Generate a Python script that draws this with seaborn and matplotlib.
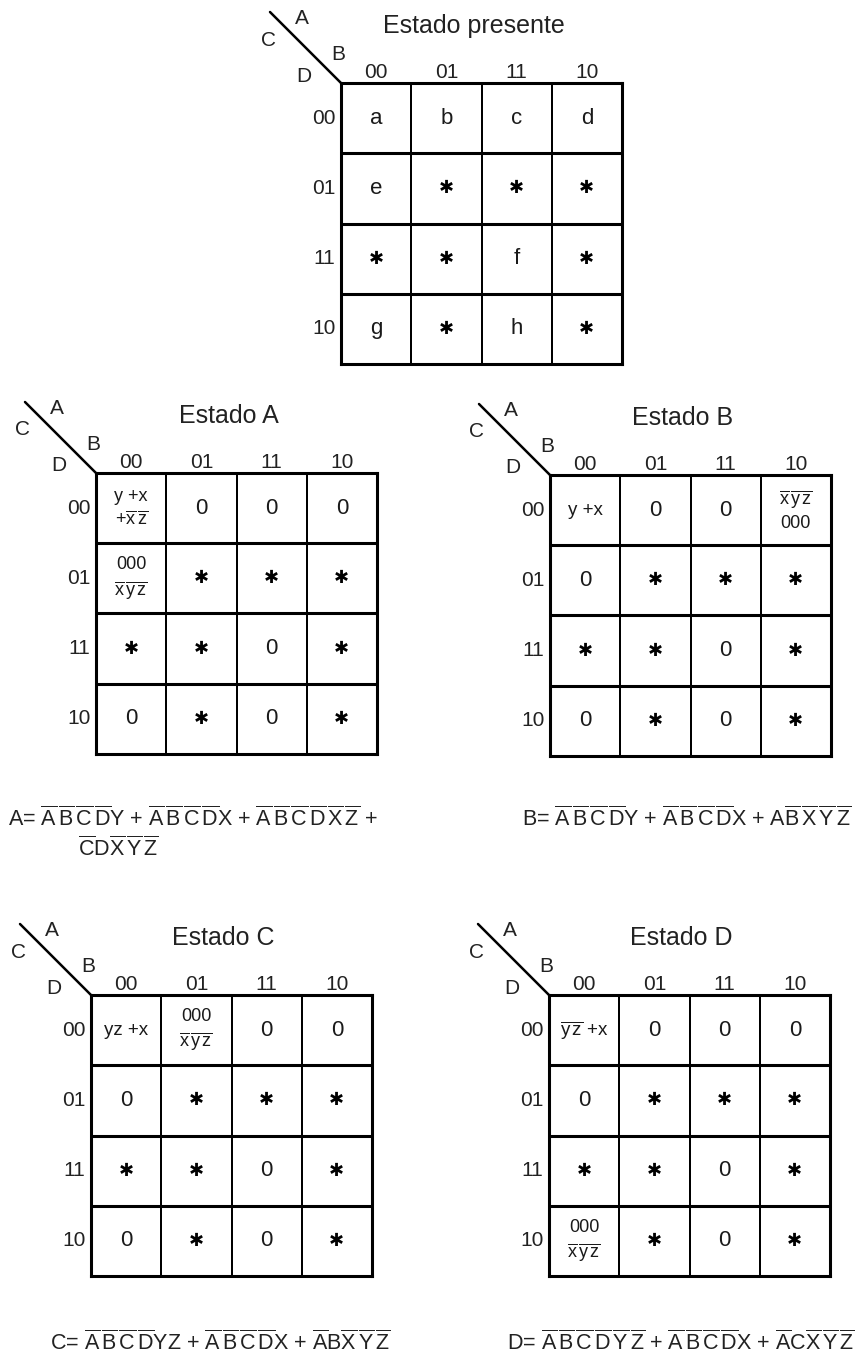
import numpy as np
import pandas as pd
import matplotlib
matplotlib.use("Agg")
import matplotlib.pyplot as plt
from matplotlib.colors import ListedColormap
import seaborn as sns

sns.set_theme(style="white")
plt.rcParams["font.family"] = ["Liberation Sans", "DejaVu Sans"]
plt.rcParams["mathtext.fontset"] = "custom"
plt.rcParams["mathtext.rm"] = "Liberation Sans"
plt.rcParams["mathtext.it"] = "Liberation Sans"
plt.rcParams["mathtext.bf"] = "Liberation Sans:bold"

W, H = 868, 1361
SIZE = 281
STAR = "\u2731"

# ── Data ──────────────────────────────────────────────────────────────────────
gray = ["00", "01", "11", "10"]

presente = [["a", "b", "c", "d"],
            ["e", "*", "*", "*"],
            ["*", "*", "f", "*"],
            ["g", "*", "h", "*"]]

estado_a = [["y +x\n+$\\overline{x}\\,\\overline{z}$", "0", "0", "0"],
            ["000\n$\\overline{x}\\,\\overline{y}\\,\\overline{z}$", "*", "*", "*"],
            ["*", "*", "0", "*"],
            ["0", "*", "0", "*"]]

estado_b = [["y +x", "0", "0", "$\\overline{x}\\,\\overline{y}\\,\\overline{z}$\n000"],
            ["0", "*", "*", "*"],
            ["*", "*", "0", "*"],
            ["0", "*", "0", "*"]]

estado_c = [["yz +x", "000\n$\\overline{x}\\,\\overline{y}\\,\\overline{z}$", "0", "0"],
            ["0", "*", "*", "*"],
            ["*", "*", "0", "*"],
            ["0", "*", "0", "*"]]

estado_d = [["$\\overline{y}\\,\\overline{z}$ +x", "0", "0", "0"],
            ["0", "*", "*", "*"],
            ["*", "*", "0", "*"],
            ["000\n$\\overline{x}\\,\\overline{y}\\,\\overline{z}$", "*", "0", "*"]]

eq_a1 = (r"A= $\overline{A}\,\overline{B}\,\overline{C}\,\overline{D}Y$ + "
         r"$\overline{A}\,\overline{B}\,\overline{C}\,\overline{D}X$ + "
         r"$\overline{A}\,\overline{B}\,\overline{C}\,\overline{D}\,\overline{X}\,\overline{Z}$ +")
eq_a2 = r"$\overline{C}D\overline{X}\,\overline{Y}\,\overline{Z}$"
eq_b = (r"B= $\overline{A}\,\overline{B}\,\overline{C}\,\overline{D}Y$ + "
        r"$\overline{A}\,\overline{B}\,\overline{C}\,\overline{D}X$ + "
        r"$A\overline{B}\,\overline{X}\,\overline{Y}\,\overline{Z}$")
eq_c = (r"C= $\overline{A}\,\overline{B}\,\overline{C}\,\overline{D}YZ$ + "
        r"$\overline{A}\,\overline{B}\,\overline{C}\,\overline{D}X$ + "
        r"$\overline{A}B\overline{X}\,\overline{Y}\,\overline{Z}$")
eq_d = (r"D= $\overline{A}\,\overline{B}\,\overline{C}\,\overline{D}\,\overline{Y}\,\overline{Z}$ + "
        r"$\overline{A}\,\overline{B}\,\overline{C}\,\overline{D}X$ + "
        r"$\overline{A}C\overline{X}\,\overline{Y}\,\overline{Z}$")

fig = plt.figure(figsize=(W / 100, H / 100), dpi=100)
fig.patch.set_facecolor("white")


def draw_map(x0, y0, cells, title):
    ax = fig.add_axes([x0 / W, 1 - (y0 + SIZE) / H, SIZE / W, SIZE / H])
    df = pd.DataFrame(np.zeros((4, 4)), index=gray, columns=gray)
    annot = np.array([[STAR if c == "*" else c for c in row] for row in cells],
                     dtype=object)
    sns.heatmap(df, ax=ax, cmap=ListedColormap(["white"]), cbar=False,
                annot=annot, fmt="", linewidths=1.4, linecolor="black",
                annot_kws={"fontsize": 16, "color": "#1a1a1a"})
    for t in ax.texts:
        s = t.get_text()
        if "\n" in s:
            t.set_fontsize(13)
            t.set_linespacing(1.35)
        elif s == STAR:
            t.set_fontsize(13)
            t.set_family("DejaVu Sans")
            t.set_color("black")
        elif "$" in s or len(s) > 2:
            t.set_fontsize(13.5)
    for i in range(1, 4):
        ax.axhline(i, color="black", lw=2.2)
    for sp in ax.spines.values():
        sp.set_visible(True)
        sp.set_color("black")
        sp.set_linewidth(2.2)
    ax.xaxis.tick_top()
    ax.set_xticklabels(gray, rotation=0)
    ax.set_yticklabels(gray, rotation=0)
    ax.tick_params(length=0, labelsize=15, colors="#222222")
    ax.tick_params(axis="x", pad=1)
    ax.tick_params(axis="y", pad=4)
    ax.set_xlabel("")
    ax.set_ylabel("")

    f = 1.0 / SIZE
    ax.plot([-71 * f, 0], [1 + 71 * f, 1], transform=ax.transAxes,
            clip_on=False, color="black", lw=1.8)
    for lab, dx, dy in [("A", -39, 64), ("C", -73, 43), ("B", -3, 28), ("D", -37, 7)]:
        ax.text(dx * f, 1 + dy * f, lab, transform=ax.transAxes,
                ha="center", va="center", fontsize=15, color="#222222")
    ax.text(0.5 - 8 * f, 1 + 57 * f, title, transform=ax.transAxes,
            ha="center", va="center", fontsize=18, color="#222222")
    return ax


draw_map(341, 83, presente, "Estado presente")
draw_map(96, 473, estado_a, "Estado A")
draw_map(550, 475, estado_b, "Estado B")
draw_map(91, 995, estado_c, "Estado C")
draw_map(549, 995, estado_d, "Estado D")

for txt, x, y in [(eq_a1, 8, 819), (eq_a2, 78, 849), (eq_b, 522, 819),
                  (eq_c, 50, 1343), (eq_d, 507, 1343)]:
    fig.text(x / W, 1 - y / H, txt, ha="left", va="center",
             fontsize=15.5, color="#222222")

fig.savefig("out.png", dpi=100, facecolor="white")
